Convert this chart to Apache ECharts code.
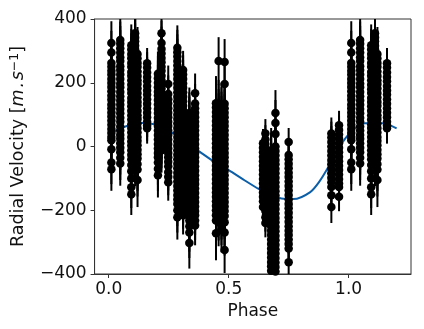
<!DOCTYPE html>
<html>
<head>
<meta charset="utf-8">
<style>html,body{margin:0;background:#fff}#chart{width:424px;height:329px}</style>
<script src="https://cdn.jsdelivr.net/npm/echarts@6/dist/echarts.min.js"></script>
</head>
<body>
<div id="chart"></div>
<script>
// phase of each observing group
const phases = [0.011, 0.048, 0.094, 0.11, 0.12, 0.16, 0.205, 0.22, 0.248, 0.286, 0.31, 0.336, 0.36,
  0.447, 0.458, 0.47, 0.483, 0.643, 0.653, 0.677, 0.695, 0.75, 0.928, 0.96]
// error bar half length per group
const errors = [68, 70, 65, 70, 85, 48, 70, 70, 58, 70, 60, 80, 62, 85, 75, 70, 72, 45, 45, 70, 72, 44, 50, 45]
// radial velocities per group
const velocities = [
  [325, 295, 262, 250, 238, 226, 212, 199, 187, 173, 159, 147, 132, 120, 107, 94, 81, 68, 55, 42, 30, 20, -9, -50, -71],
  [334, 322, 308, 295, 280, 268, 252, 240, 226, 212, 198, 186, 171, 158, 144, 131, 118, 104, 90, 78, 63, 50, 36, 24, 10, -4, -18, -35, -53],
  [318, 304, 290, 277, 262, 250, 234, 222, 208, 194, 180, 168, 152, 140, 126, 112, 98, 85, 70, 58, 44, 30, 16, 3, -12, -26, -40, -58, -78, -100, -128, -150],
  [355, 342, 330, 316, 304, 290, 276, 262, 250, 236, 222, 208, 195, 181, 168, 154, 140, 128, 114, 100, 86, 72, 60, 46, 32, 18, 6, -8, -22, -38, -55],
  [290, 276, 262, 250, 235, 221, 208, 196, 182, 168, 154, 140, 128, 112, 98, 86, 72, 58, 44, 30, 18, 4, -10, -24, -38, -55, -72, -105],
  [261, 248, 232, 218, 205, 190, 176, 163, 148, 134, 120, 106, 92, 78, 66, 57],
  [228, 214, 200, 186, 172, 160, 146, 132, 118, 105, 90, 76, 64, 50, 36, 22, 8, -6, -20, -34, -50, -70, -90],
  [355, 325, 306, 292, 278, 264, 250, 238, 222, 208, 195, 182, 168, 154, 140, 126, 112, 98, 84, 72, 58, 44, 30, 16, 2, -12],
  [196, 165, 148, 135, 120, 106, 92, 78, 64, 50, 36, 22, 8, -6, -20, -34, -48, -62, -80, -95, -112],
  [310, 296, 282, 268, 254, 240, 226, 212, 198, 184, 170, 156, 142, 128, 114, 100, 86, 72, 58, 44, 30, 16, 2, -12, -26, -40, -54, -68, -82, -96, -110, -124, -138, -152, -166, -180, -200, -222],
  [240, 226, 212, 198, 184, 170, 156, 142, 128, 114, 100, 86, 72, 58, 44, 30, 16, 2, -12, -26, -40, -54, -68, -82, -96, -110, -124, -138, -152, -166, -180, -198, -216],
  [105, 90, 76, 62, 48, 34, 20, 6, -8, -22, -36, -50, -64, -78, -92, -106, -120, -134, -148, -162, -176, -190, -204, -218, -232, -250, -270, -303],
  [167, 135, 120, 106, 92, 78, 64, 50, 36, 22, 8, -6, -20, -34, -48, -62, -76, -90, -104, -118, -132, -146, -160, -174, -188, -202, -216, -232, -248],
  [136, 122, 108, 94, 80, 66, 52, 38, 24, 10, -4, -18, -32, -46, -60, -74, -88, -102, -116, -130, -144, -158, -172, -186, -200, -216, -232, -272],
  [268, 134, 120, 105, 92, 78, 64, 50, 36, 22, 8, -6, -20, -34, -48, -62, -76, -90, -104, -118, -132, -146, -160, -174, -188, -204, -220, -238],
  [130, 116, 102, 88, 74, 60, 46, 32, 18, 4, -10, -24, -38, -52, -66, -80, -94, -108, -122, -136, -150, -164, -178, -192, -206, -222, -240, -262],
  [265, 196, 134, 120, 106, 92, 78, 64, 50, 36, 22, 8, -6, -20, -34, -48, -62, -76, -90, -104, -118, -132, -146, -160, -174, -188, -202, -218, -238, -270, -325],
  [10, -4, -18, -32, -46, -60, -74, -88, -102, -116, -130, -144, -158, -172, -190],
  [41, 22, 8, -6, -20, -34, -48, -62, -76, -90, -104, -118, -132, -146, -160, -174, -188, -202, -222, -240],
  [-12, -26, -40, -54, -68, -82, -96, -110, -124, -138, -152, -166, -180, -194, -208, -222, -236, -250, -264, -278, -292, -306, -320, -334, -348, -362, -376, -390],
  [105, 74, 39, 0, -14, -28, -42, -56, -70, -84, -98, -112, -126, -140, -154, -168, -182, -196, -210, -224, -238, -252, -266, -280, -294, -308, -322, -336, -350, -364, -378, -392],
  [14, -27, -40, -54, -68, -82, -96, -110, -124, -138, -152, -166, -180, -194, -208, -222, -236, -250, -264, -278, -292, -306, -320, -363],
  [41, 28, 14, 0, -14, -28, -42, -56, -70, -84, -98, -112, -127, -153, -190],
  [67, 52, 38, 24, 10, -4, -18, -32, -46, -60, -74, -88, -102, -116, -127, -158]
]
// fitted curve
const curvePhase = [0, 0.03, 0.06, 0.1, 0.14, 0.2, 0.26, 0.32, 0.38, 0.44, 0.5, 0.56, 0.627, 0.68, 0.72, 0.77, 0.84, 0.88, 0.915, 0.945, 0.975, 1.025, 1.07, 1.14, 1.2]
const curveRv = [36, 50, 60, 70, 74, 68, 45, 15, -17, -48, -74, -103, -134, -153, -163, -165, -143, -108, -65, -24, 14, 57, 73, 73, 57]
const xTicks = [0, 0.5, 1]
const yTicks = [-400, -200, 0, 200, 400]

// groups below phase 0.2 are plotted again one period later
const points = []
phases.forEach((p, i) => {
  velocities[i].forEach((v) => {
    points.push([p, v, errors[i]])
    if (p < 0.2) points.push([p + 1, v, errors[i]])
  })
})

const myChart = echarts.init(document.getElementById('chart'))
const font = '"DejaVu Sans"'
myChart.setOption({
  animation: false,
  backgroundColor: '#fff',
  grid: { left: 90, top: 19, right: 13, bottom: 55, show: true, borderColor: '#333', borderWidth: 1 },
  xAxis: {
    type: 'value',
    min: -0.059,
    max: 1.26,
    name: 'Phase',
    nameLocation: 'middle',
    nameGap: 27,
    nameTextStyle: { fontFamily: font, fontSize: 17, color: '#111' },
    splitLine: { show: false },
    axisLine: { onZero: false, lineStyle: { color: '#333' } },
    axisTick: { customValues: xTicks, length: 4, lineStyle: { color: '#333' } },
    axisLabel: {
      customValues: xTicks,
      margin: 7,
      fontFamily: font,
      fontSize: 17,
      color: '#111',
      formatter: (v) => v.toFixed(1)
    }
  },
  yAxis: {
    type: 'value',
    min: -400,
    max: 400,
    interval: 200,
    name: '{t|Radial Velocity [}{m|m\u200a.\u200as}{s|−1}{t|]}',
    nameLocation: 'middle',
    nameGap: 65,
    nameTextStyle: {
      rich: {
        t: { fontFamily: font, fontSize: 17.5, color: '#111' },
        m: { fontFamily: font, fontStyle: 'italic', fontSize: 17.5, color: '#111' },
        s: { fontFamily: font, fontSize: 12.5, color: '#111', verticalAlign: 'top', lineHeight: 20, padding: [0, 0, 8, 0] }
      }
    },
    splitLine: { show: false },
    axisLine: { onZero: false, lineStyle: { color: '#333' } },
    axisTick: { customValues: yTicks, length: 4, lineStyle: { color: '#333' } },
    axisLabel: {
      customValues: yTicks,
      margin: 8,
      fontFamily: font,
      fontSize: 17,
      color: '#111',
      formatter: (v) => String(v).replace('-', '−')
    }
  },
  series: [
    {
      type: 'line',
      data: curvePhase.map((p, i) => [p, curveRv[i]]),
      smooth: 0.3,
      showSymbol: false,
      lineStyle: { color: '#0b5ea8', width: 2 },
      z: 1
    },
    {
      type: 'custom',
      data: points,
      clip: true,
      silent: true,
      z: 2,
      renderItem: (params, api) => {
        const x = api.value(0)
        const y = api.value(1)
        const e = api.value(2)
        const a = api.coord([x, y + e])
        const b = api.coord([x, y - e])
        return {
          type: 'line',
          shape: { x1: a[0], y1: a[1], x2: b[0], y2: b[1] },
          style: { stroke: '#000', lineWidth: 2 }
        }
      }
    },
    {
      type: 'scatter',
      data: points.map((d) => [d[0], d[1]]),
      symbolSize: 8.5,
      clip: true,
      itemStyle: { color: '#000', opacity: 1 },
      z: 3
    }
  ]
})
</script>
</body>
</html>
